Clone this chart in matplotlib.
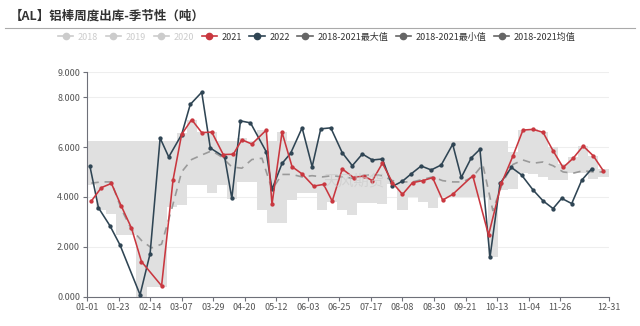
import matplotlib as mpl
import matplotlib.pyplot as plt
from matplotlib.lines import Line2D
from matplotlib.ticker import FuncFormatter
import numpy as np

mpl.rcParams.update({
    "font.family": ["Noto Sans CJK SC", "DejaVu Sans"],
    "font.size": 6.5,
    "axes.linewidth": 0.8,
})

# ---- data (tons), x = day of year ----
days_2021 = [3, 10, 17, 24, 31, 38, 52, 60, 66, 73, 80, 87, 95, 102, 108, 115, 125, 129,
             136, 143, 150, 158, 165, 171, 178, 186, 193, 199, 206, 213, 220, 227, 234,
             241, 248, 255, 269, 280, 289, 297, 304, 311, 318, 325, 332, 339, 346, 353, 360]
vals_2021 = [3830, 4370, 4540, 3620, 2750, 1400, 430, 4680, 6510, 7100, 6580, 6600, 5700,
             5710, 6290, 6120, 6680, 3700, 6590, 5210, 4920, 4430, 4500, 3830, 5120, 4770,
             4840, 4650, 5350, 4570, 4100, 4570, 4650, 4770, 3870, 4100, 4850, 2470, 4540,
             5640, 6680, 6710, 6590, 5850, 5180, 5550, 6040, 5650, 5050]

days_2022 = [2, 8, 16, 23, 37, 44, 51, 57, 66, 72, 80, 86, 96, 101, 107, 114, 125, 129,
             136, 142, 150, 157, 163, 170, 178, 185, 192, 199, 206, 213, 220, 226, 233,
             240, 247, 255, 261, 268, 274, 281, 288, 296, 303, 311, 318, 325, 331, 338,
             345, 352]
vals_2022 = [5240, 3560, 2840, 2070, 70, 1720, 6360, 5600, 6500, 7710, 8200, 5960, 5590,
             3940, 7050, 6970, 5810, 4300, 5340, 5750, 6770, 5210, 6730, 6770, 5770, 5250,
             5720, 5480, 5520, 4420, 4630, 4920, 5240, 5080, 5280, 6110, 4780, 5570, 5910,
             1570, 4540, 5180, 4880, 4280, 3840, 3530, 3940, 3730, 4670, 5130]

# 2018-2021 weekly max / min / mean
week_days = list(range(3, 361, 7))
max_1821 = [6250, 6250, 6250, 6250, 6250, 6250, 6250, 6250, 6250, 6550, 7100, 6600, 6600,
            6250, 6250, 6350, 6250, 6700, 6250, 6600, 6250, 6250, 6250, 6250, 6250, 6250,
            6250, 6250, 6250, 6250, 6250, 6250, 6250, 6250, 6250, 6250, 6250, 6250, 6250,
            6250, 6250, 6250, 5800, 6700, 6720, 6600, 6000, 5300, 5600, 6050, 5650, 5100]
min_1821 = [4470, 3470, 3300, 2450, 2450, 0, 400, 400, 3600, 3670, 4470, 4470, 4140, 4470,
            3900, 4600, 4600, 3470, 2950, 2950, 3870, 4140, 4140, 3470, 3800, 3470, 3270,
            3740, 3740, 3700, 4500, 3470, 4000, 3800, 3550, 4000, 4000, 4000, 4000, 4000,
            1600, 4270, 4300, 4950, 4900, 4800, 4670, 4670, 4950, 4950, 4700, 4800]
mean_1821 = [4550, 4600, 4600, 3500, 2700, 2250, 1950, 2100, 3500, 5000, 5500, 5680, 5850,
             5600, 5200, 5150, 5500, 5550, 4300, 4900, 4900, 4800, 4850, 4800, 4850, 4800,
             4750, 4850, 4900, 4850, 4650, 4600, 4600, 4700, 4800, 4650, 4600, 4600, 4800,
             5300, 3450, 4600, 5300, 5480, 5350, 5400, 5250, 5000, 4950, 5050, 5000, 5000]

tick_days = [0, 22, 44, 66, 88, 110, 132, 154, 176, 198, 220, 242, 264, 286, 308, 330, 364]
tick_labels = ["01-01", "01-23", "02-14", "03-07", "03-29", "04-20", "05-12", "06-03",
               "06-25", "07-17", "08-08", "08-30", "09-21", "10-13", "11-04", "11-26", "12-31"]
y_ticks = [0, 2000, 4000, 6000, 8000, 9000]

legend_names = ["2018", "2019", "2020", "2021", "2022",
                "2018-2021最大值", "2018-2021最小值", "2018-2021均值"]

c21 = "#c9373f"
c22 = "#2f4554"
cband = "#e0e0e0"
cmean = "#9a9a9a"

fig = plt.figure(figsize=(6.4, 3.26), dpi=100)
ax = fig.add_axes([87 / 640, 1 - 296.5 / 326, 522 / 640, (296.5 - 72.3) / 326])

# min-max band as steps around each week
wd = np.array(week_days, dtype=float)
edges = np.concatenate([[0], (wd[:-1] + wd[1:]) / 2, [364]])
ax.stairs(max_1821, edges, baseline=min_1821, fill=True, color=cband, lw=0, zorder=1)

ax.plot(week_days, mean_1821, color=cmean, lw=1.2, dashes=(4.5, 3.5), zorder=2)
ax.plot(days_2021, vals_2021, color=c21, lw=1.15, marker="o", ms=2.1, zorder=4)
ax.plot(days_2022, vals_2022, color=c22, lw=1.15, marker="o", ms=2.1, zorder=3)

ax.text(186, 4650, "天风期货", fontsize=11, color="#c8c8c8", alpha=0.6,
        ha="center", va="center", zorder=5)

ax.set_xlim(0, 364)
ax.set_ylim(0, 9000)
ax.set_xticks(tick_days)
ax.set_xticklabels(tick_labels)
ax.set_yticks(y_ticks)
ax.yaxis.set_major_formatter(FuncFormatter(lambda v, p: f"{v / 1000:.3f}"))
ax.tick_params(axis="both", length=3, width=0.8, color="#6e7079", labelcolor="#555555",
               labelsize=6.5, pad=2)
ax.grid(axis="y", color="#eeeeee", lw=0.8)
ax.set_axisbelow(True)
for s in ["top", "right"]:
    ax.spines[s].set_visible(False)
ax.spines["left"].set_color("#6e7079")
ax.spines["bottom"].set_color("#6e7079")

# title + separator
fig.text(10 / 640, 1 - 16 / 326, "【AL】铝棒周度出库-季节性（吨）", fontsize=9,
         fontweight="bold", color="#333333", va="center", ha="left")
fig.add_artist(Line2D([5 / 640, 635 / 640], [1 - 28 / 326, 1 - 28 / 326],
                      color="#aaaaaa", lw=0.8))

# legend
leg_colors = ["#cccccc", "#cccccc", "#cccccc", c21, c22, "#666666", "#666666", "#666666"]
txt_colors = ["#cccccc", "#cccccc", "#cccccc", "#333333", "#333333", "#333333", "#333333",
              "#333333"]
handles = [Line2D([], [], color=c, lw=1.2, marker="o", ms=4.5) for c in leg_colors]
leg = fig.legend(handles, legend_names, loc="center", ncol=8,
                 bbox_to_anchor=(0.495, 1 - 37 / 326), frameon=False, fontsize=6.5,
                 handlelength=1.7, handletextpad=0.5, columnspacing=0.85)
for t, c in zip(leg.get_texts(), txt_colors):
    t.set_color(c)

fig.savefig("out.png", dpi=100)
